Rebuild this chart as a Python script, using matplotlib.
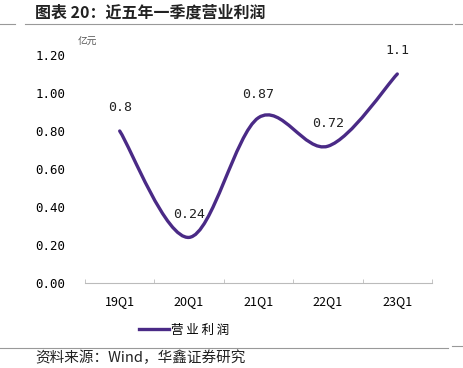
import numpy as np
import matplotlib.pyplot as plt
from matplotlib.path import Path
from matplotlib.patches import PathPatch
from matplotlib.lines import Line2D

plt.rcParams['font.family'] = ['Noto Sans CJK SC', 'DejaVu Sans']

quarters = ['19Q1', '20Q1', '21Q1', '22Q1', '23Q1']
profit = [0.8, 0.24, 0.87, 0.72, 1.1]
yticks = [0.0, 0.2, 0.4, 0.6, 0.8, 1.0, 1.2]

color = '#4A2A86'
mono = ['DejaVu Sans Mono']

fig = plt.figure(figsize=(4.63, 3.68), dpi=100)
ax = fig.add_axes([85 / 463, 1 - 283 / 368, 347 / 463, 228 / 368])

# smoothed line (Catmull-Rom style bezier, like Excel smoothing)
x = np.arange(len(profit), dtype=float)
y = np.array(profit)
verts = [(x[0], y[0])]
codes = [Path.MOVETO]
for i in range(len(x) - 1):
    p0 = np.array([x[max(i - 1, 0)], y[max(i - 1, 0)]])
    p1 = np.array([x[i], y[i]])
    p2 = np.array([x[i + 1], y[i + 1]])
    p3 = np.array([x[min(i + 2, len(x) - 1)], y[min(i + 2, len(x) - 1)]])
    c1 = p1 + (p2 - p0) / 6
    c2 = p2 - (p3 - p1) / 6
    verts += [tuple(c1), tuple(c2), tuple(p2)]
    codes += [Path.CURVE4] * 3
ax.add_patch(PathPatch(Path(verts, codes), facecolor='none', edgecolor=color,
                       lw=2.4, capstyle='round', joinstyle='round'))

for xi, yi in zip(x, profit):
    ax.annotate(f'{yi:g}', (xi, yi), xytext=(0, 12), textcoords='offset points',
                ha='center', va='bottom', fontsize=9.5, color='#222222', family=mono)

ax.set_xlim(-0.5, len(quarters) - 0.5)
ax.set_ylim(0, 1.2)
ax.set_xticks(x)
ax.set_xticklabels(quarters, fontsize=9)
ax.set_xticks(np.arange(-0.5, len(quarters)), minor=True)
ax.tick_params(axis='x', which='major', length=0, pad=9)
ax.tick_params(axis='x', which='minor', length=3, color='#bbbbbb', direction='in')
ax.set_yticks(yticks)
ax.set_yticklabels([f'{v:.2f}' for v in yticks], fontsize=9, family=mono)
ax.tick_params(axis='y', length=0, pad=14)
for s in ['top', 'right', 'left']:
    ax.spines[s].set_visible(False)
ax.spines['bottom'].set_color('#bbbbbb')
ax.spines['bottom'].set_linewidth(0.8)

fig.text(78 / 463, 1 - 42 / 368, '亿元', fontsize=7, color='#555555', va='center')

fig.text(35 / 463, 1 - 13 / 368, '图表 20：近五年一季度营业利润', fontsize=11.5,
         fontweight='bold', va='center', color='#222222')
fig.add_artist(Line2D([0, 15 / 463], [1 - 24 / 368] * 2, color='#999999', lw=0.8))
fig.add_artist(Line2D([25 / 463, 452 / 463], [1 - 24 / 368] * 2, color='#999999', lw=0.8))
fig.add_artist(Line2D([455 / 463, 1], [1 - 24 / 368] * 2, color='#999999', lw=0.8))

fig.add_artist(Line2D([0, 448 / 463], [1 - 348 / 368] * 2, color='#999999', lw=0.8))
fig.add_artist(Line2D([452 / 463, 1], [1 - 346 / 368] * 2, color='#999999', lw=0.8))

handle = Line2D([], [], color=color, lw=2.4)
fig.legend([handle], ['营 业 利 润'], loc='center', bbox_to_anchor=(184 / 463, 1 - 330 / 368),
           frameon=False, fontsize=9, handlelength=2.4, handletextpad=0.2)

fig.text(35 / 463, 1 - 358 / 368, '资料来源：Wind，华鑫证券研究', fontsize=10.5,
         va='center', color='#222222')

fig.savefig('out.png', dpi=100)
